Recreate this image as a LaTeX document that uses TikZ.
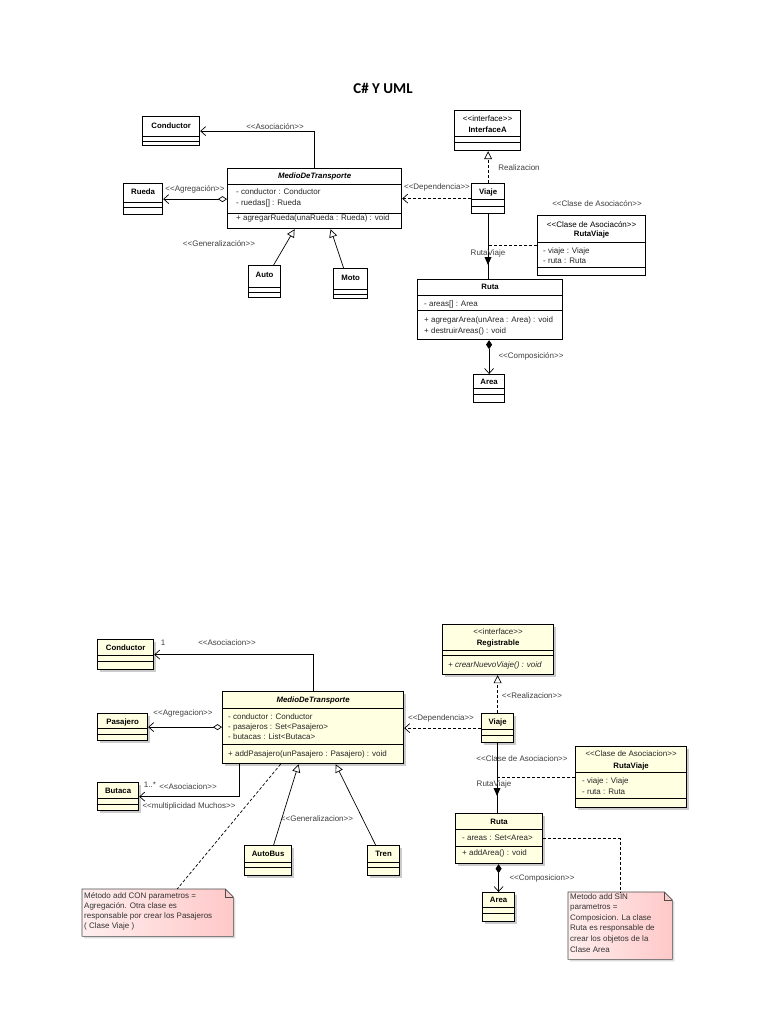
\documentclass[tikz,border=0pt]{standalone}
\usepackage{fontspec}
\setmainfont{Liberation Sans}
\newfontfamily\titlefont{Carlito}
\usetikzlibrary{arrows.meta, shadows}

\definecolor{umlyellow}{RGB}{255,255,226}
\definecolor{notelight}{RGB}{255,238,238}
\definecolor{notedark}{RGB}{255,200,200}

% stereotype brackets, kept apart so they stay as two signs
\newcommand{\stereo}[1]{<\kern0pt<#1>\kern0pt>}
% compartment line inside a class box
\newcommand{\hsep}[2]{\draw[sepline] ([yshift=-#2pt]#1.north west) -- ([yshift=-#2pt]#1.north east);}

\begin{document}
\begin{tikzpicture}[
      x=1pt, y=-1pt,
      cls/.style={draw, line width=1.2pt, fill=white, anchor=north west, inner sep=0pt},
      ycls/.style={cls, fill=umlyellow, drop shadow={shadow xshift=2.5pt, shadow yshift=-2.5pt, fill=black!45, opacity=0.45}},
      sepline/.style={line width=0.6pt},
      cname/.style={font=\bfseries\fontsize{7.8}{9}\selectfont, inner sep=0pt},
      ctext/.style={font=\fontsize{8}{9}\selectfont, inner sep=0pt, anchor=west, text=black!85},
      lbl/.style={font=\fontsize{8}{9}\selectfont, inner sep=0pt, text=black!75},
      notetext/.style={font=\fontsize{8}{10}\selectfont, inner sep=0pt, anchor=north west, align=left, text=black!80},
      notebox/.style={anchor=north west, inner sep=0pt},
      noteshape/.style={draw=black!70, line width=0.6pt, left color=notelight, right color=notedark, drop shadow={shadow xshift=2pt, shadow yshift=-2pt, fill=black!40, opacity=0.35}},
      conn/.style={line width=0.7pt},
      barb/.tip={Straight Barb[length=5pt, width=9pt]},
      assoc/.style={conn, -barb},
      gen/.style={conn, -{Triangle[open, length=8pt, width=8pt, fill=white]}},
      agg/.style={conn, {Diamond[open, length=9pt, width=6pt, fill=white]}-barb},
      comp/.style={conn, {Diamond[length=9pt, width=6pt]}-barb},
      dep/.style={conn, dash pattern=on 3pt off 2pt, -barb},
      real/.style={conn, dash pattern=on 3pt off 2pt, -{Triangle[open, length=8pt, width=8pt, fill=white]}},
      notelink/.style={conn, dash pattern=on 3pt off 2pt}
    ]
    \useasboundingbox (0,0) rectangle (768,1024);
    \fill[white] (0,0) rectangle (768,1024);

    \node[font=\titlefont\bfseries\fontsize{15}{18}\selectfont] (title) at (383,88) {C\# Y UML};

    % ---------- first diagram ----------
    \node[cls, minimum width=57pt, minimum height=29pt] (cond1) at (142,116) {};
    \hsep{cond1}{20} \hsep{cond1}{25}
    \node[cname] (cond1-n) at ([yshift=-10pt]cond1.north) {Conductor};

    \node[cls, minimum width=174pt, minimum height=60pt] (medio1) at (227,168) {};
    \hsep{medio1}{16} \hsep{medio1}{45}
    \node[cname, font=\bfseries\itshape\fontsize{7.8}{9}\selectfont] (medio1-n) at ([yshift=-8pt]medio1.north) {MedioDeTransporte};
    \node[ctext] (medio1-a1) at (236,192) {- conductor : Conductor};
    \node[ctext] (medio1-a2) at (236,203) {- ruedas[] : Rueda};
    \node[ctext] (medio1-o1) at (236,218) {+ agregarRueda(unaRueda : Rueda) : void};

    \node[cls, minimum width=39pt, minimum height=31pt] (rueda1) at (123,183) {};
    \hsep{rueda1}{19} \hsep{rueda1}{24}
    \node[cname] (rueda1-n) at ([yshift=-9pt]rueda1.north) {Rueda};

    \node[cls, minimum width=32pt, minimum height=32pt] (auto1) at (248,265) {};
    \hsep{auto1}{22} \hsep{auto1}{27}
    \node[cname] (auto1-n) at ([yshift=-10pt]auto1.north) {Auto};

    \node[cls, minimum width=34pt, minimum height=30pt] (moto1) at (333,268) {};
    \hsep{moto1}{21} \hsep{moto1}{26}
    \node[cname] (moto1-n) at ([yshift=-10pt]moto1.north) {Moto};

    \node[cls, minimum width=66pt, minimum height=40pt] (iface1) at (454,110) {};
    \hsep{iface1}{26} \hsep{iface1}{32}
    \node[lbl, text=black] (iface1-s) at ([yshift=-9pt]iface1.north) {\stereo{interface}};
    \node[cname] (iface1-n) at ([yshift=-20pt]iface1.north) {InterfaceA};

    \node[cls, minimum width=33pt, minimum height=30pt] (viaje1) at (471,183) {};
    \hsep{viaje1}{16} \hsep{viaje1}{23}
    \node[cname] (viaje1-n) at ([yshift=-9pt]viaje1.north) {Viaje};

    \node[cls, minimum width=108pt, minimum height=60pt] (rv1) at (537,215) {};
    \hsep{rv1}{27} \hsep{rv1}{52}
    \node[lbl, text=black] (rv1-s) at ([yshift=-10pt]rv1.north) {\stereo{Clase de Asociacón}};
    \node[cname] (rv1-n) at ([yshift=-19pt]rv1.north) {RutaViaje};
    \node[ctext] (rv1-a1) at (543,251) {- viaje : Viaje};
    \node[ctext] (rv1-a2) at (543,261) {- ruta : Ruta};

    \node[cls, minimum width=145pt, minimum height=60pt] (ruta1) at (417,279) {};
    \hsep{ruta1}{16} \hsep{ruta1}{31}
    \node[cname] (ruta1-n) at ([yshift=-8pt]ruta1.north) {Ruta};
    \node[ctext] (ruta1-a1) at (424,304) {- areas[] : Area};
    \node[ctext] (ruta1-o1) at (424,320) {+ agregarArea(unArea : Area) : void};
    \node[ctext] (ruta1-o2) at (424,331) {+ destruirAreas() : void};

    \node[cls, minimum width=31pt, minimum height=28pt] (area1) at (473,374) {};
    \hsep{area1}{14} \hsep{area1}{20}
    \node[cname] (area1-n) at ([yshift=-8pt]area1.north) {Area};

    % connectors
    \draw[assoc] (medio1.north) |- (cond1.east);
    \draw[agg] (medio1.west |- rueda1.east) -- (rueda1.east);
    \draw[gen] ([xshift=9pt]auto1.north) -- ([xshift=-20pt]medio1.south);
    \draw[gen] ([xshift=-7pt]moto1.north) -- ([xshift=16pt]medio1.south);
    \draw[dep] (viaje1.west) -- (medio1.east |- viaje1.west);
    \draw[real] (viaje1.north) -- (viaje1.north |- iface1.south);
    \draw[conn] (viaje1.south) -- (viaje1.south |- ruta1.north);
    \draw[notelink] (rv1.west) -- (rv1.west -| viaje1.south);
    \draw[comp] (area1.north |- ruta1.south) -- (area1.north);
    \coordinate (nav1) at (488,261);
    \fill ([shift={(-3.5,-4)}]nav1) -- ([shift={(3.5,-4)}]nav1) -- ([shift={(0,4)}]nav1) -- cycle;

    \node[lbl] (l-asoc1) at (275,127) {\stereo{Asociación}};
    \node[lbl] (l-agr1) at (195,189) {\stereo{Agregación}};
    \node[lbl] (l-gen1) at (219,244) {\stereo{Generalización}};
    \node[lbl] (l-dep1) at (437,187) {\stereo{Dependencia}};
    \node[lbl] (l-real1) at (519,168) {Realizacion};
    \node[lbl] (l-cla1) at (597,204) {\stereo{Clase de Asociacón}};
    \node[lbl] (l-rv1) at (488,253) {RutaViaje};
    \node[lbl] (l-comp1) at (531,356) {\stereo{Composición}};

    % ---------- second diagram ----------
    \node[ycls, minimum width=56pt, minimum height=30pt] (cond2) at (97,639) {};
    \hsep{cond2}{16} \hsep{cond2}{22}
    \node[cname] (cond2-n) at ([yshift=-9pt]cond2.north) {Conductor};

    \node[ycls, minimum width=50pt, minimum height=27pt] (pas2) at (97,713) {};
    \hsep{pas2}{15} \hsep{pas2}{21}
    \node[cname] (pas2-n) at ([yshift=-9pt]pas2.north) {Pasajero};

    \node[ycls, minimum width=41pt, minimum height=28pt] (but2) at (97,782) {};
    \hsep{but2}{16} \hsep{but2}{22}
    \node[cname] (but2-n) at ([yshift=-9pt]but2.north) {Butaca};

    \node[ycls, minimum width=181pt, minimum height=72pt] (medio2) at (222,691) {};
    \hsep{medio2}{17} \hsep{medio2}{53}
    \node[cname, font=\bfseries\itshape\fontsize{7.8}{9}\selectfont] (medio2-n) at ([yshift=-9pt]medio2.north) {MedioDeTransporte};
    \node[ctext] (medio2-a1) at (228,717) {- conductor : Conductor};
    \node[ctext] (medio2-a2) at (228,727) {- pasajeros : Set<Pasajero>};
    \node[ctext] (medio2-a3) at (228,737) {- butacas : List<Butaca>};
    \node[ctext] (medio2-o1) at (228,754) {+ addPasajero(unPasajero : Pasajero) : void};

    \node[ycls, minimum width=47pt, minimum height=30pt] (autobus2) at (244,845) {};
    \hsep{autobus2}{17} \hsep{autobus2}{22}
    \node[cname] (autobus2-n) at ([yshift=-9pt]autobus2.north) {AutoBus};

    \node[ycls, minimum width=32pt, minimum height=30pt] (tren2) at (367,845) {};
    \hsep{tren2}{17} \hsep{tren2}{22}
    \node[cname] (tren2-n) at ([yshift=-9pt]tren2.north) {Tren};

    \node[ycls, minimum width=111pt, minimum height=50pt] (reg2) at (442,624) {};
    \hsep{reg2}{26} \hsep{reg2}{31}
    \node[lbl, text=black!85] (reg2-s) at ([yshift=-8pt]reg2.north) {\stereo{interface}};
    \node[cname] (reg2-n) at ([yshift=-19pt]reg2.north) {Registrable};
    \node[ctext, font=\itshape\fontsize{8}{9}\selectfont] (reg2-o1) at (448,665) {+ crearNuevoViaje() : void};

    \node[ycls, minimum width=32pt, minimum height=29pt] (viaje2) at (481,713) {};
    \hsep{viaje2}{16} \hsep{viaje2}{22}
    \node[cname] (viaje2-n) at ([yshift=-9pt]viaje2.north) {Viaje};

    \node[ycls, minimum width=111pt, minimum height=61pt] (rv2) at (575,746) {};
    \hsep{rv2}{26} \hsep{rv2}{52}
    \node[lbl, text=black!85] (rv2-s) at ([yshift=-8pt]rv2.north) {\stereo{Clase de Asociacion}};
    \node[cname] (rv2-n) at ([yshift=-20pt]rv2.north) {RutaViaje};
    \node[ctext] (rv2-a1) at (582,781) {- viaje : Viaje};
    \node[ctext] (rv2-a2) at (582,792) {- ruta : Ruta};

    \node[ycls, minimum width=87pt, minimum height=50pt] (ruta2) at (455,813) {};
    \hsep{ruta2}{16} \hsep{ruta2}{33}
    \node[cname] (ruta2-n) at ([yshift=-9pt]ruta2.north) {Ruta};
    \node[ctext] (ruta2-a1) at (462,838) {- areas : Set<Area>};
    \node[ctext] (ruta2-o1) at (462,853) {+ addArea() : void};

    \node[ycls, minimum width=32pt, minimum height=29pt] (area2) at (482,892) {};
    \hsep{area2}{15} \hsep{area2}{21}
    \node[cname] (area2-n) at ([yshift=-8pt]area2.north) {Area};

    % notes
    \node[notebox, minimum width=151pt, minimum height=47pt] (note2a) at (82,889) {};
    \shadedraw[noteshape] (note2a.north west) -- ([xshift=-8pt]note2a.north east) -- ([yshift=-8pt]note2a.north east) -- (note2a.south east) -- (note2a.south west) -- cycle;
    \draw[line width=0.6pt, black!70] ([xshift=-8pt]note2a.north east) |- ([yshift=-8pt]note2a.north east);
    \node[notetext] (note2a-t) at (84,892) {Método add CON parametros =\\Agregación. Otra clase es\\responsable por crear los Pasajeros\\( Clase Viaje )};

    \node[notebox, minimum width=104pt, minimum height=67pt] (note2b) at (568,892) {};
    \shadedraw[noteshape] (note2b.north west) -- ([xshift=-8pt]note2b.north east) -- ([yshift=-8pt]note2b.north east) -- (note2b.south east) -- (note2b.south west) -- cycle;
    \draw[line width=0.6pt, black!70] ([xshift=-8pt]note2b.north east) |- ([yshift=-8pt]note2b.north east);
    \node[notetext, font=\fontsize{8}{10.6}\selectfont] (note2b-t) at (570,893) {Metodo add SIN\\parametros =\\Composicion. La clase\\Ruta es responsable de\\crear los objetos de la\\Clase Area};

    % connectors
    \draw[assoc] (medio2.north) |- (cond2.east);
    \draw[agg] (medio2.west |- pas2.east) -- (pas2.east);
    \draw[assoc] ([xshift=-73.5pt]medio2.south) |- (but2.east);
    \draw[gen] ([xshift=5.5pt]autobus2.north) -- ([xshift=-14.5pt]medio2.south);
    \draw[gen] ([xshift=-8pt]tren2.north) -- ([xshift=22.5pt]medio2.south);
    \draw[notelink] ([xshift=-32.5pt]medio2.south) -- ([xshift=19.5pt]note2a.north);
    \draw[dep] (viaje2.west) -- (medio2.east |- viaje2.west);
    \draw[real] (viaje2.north) -- (viaje2.north |- reg2.south);
    \draw[conn] (viaje2.south) -- (viaje2.south |- ruta2.north);
    \draw[notelink] (rv2.west) -- (rv2.west -| viaje2.south);
    \draw[comp] (area2.north |- ruta2.south) -- (area2.north);
    \draw[notelink] (ruta2.east) -| (note2b.north);
    \coordinate (nav2) at (497,792);
    \fill ([shift={(-3.5,-4)}]nav2) -- ([shift={(3.5,-4)}]nav2) -- ([shift={(0,4)}]nav2) -- cycle;

    \node[lbl] (l-one2) at (163,643) {1};
    \node[lbl] (l-asoc2) at (227,643) {\stereo{Asociacion}};
    \node[lbl] (l-agr2) at (183,713) {\stereo{Agregacion}};
    \node[lbl] (l-many2) at (150,785) {1..*};
    \node[lbl] (l-asoc2b) at (188,787) {\stereo{Asociacion}};
    \node[lbl] (l-mult2) at (189,806) {\stereo{multiplicidad Muchos}};
    \node[lbl] (l-gen2) at (317,819) {\stereo{Generalizacion}};
    \node[lbl] (l-dep2) at (441,718) {\stereo{Dependencia}};
    \node[lbl] (l-real2) at (532,696) {\stereo{Realizacion}};
    \node[lbl] (l-cla2) at (522,759) {\stereo{Clase de Asociacion}};
    \node[lbl] (l-rv2) at (494,784) {RutaViaje};
    \node[lbl] (l-comp2) at (542,878) {\stereo{Composicion}};
  \end{tikzpicture}
\end{document}
